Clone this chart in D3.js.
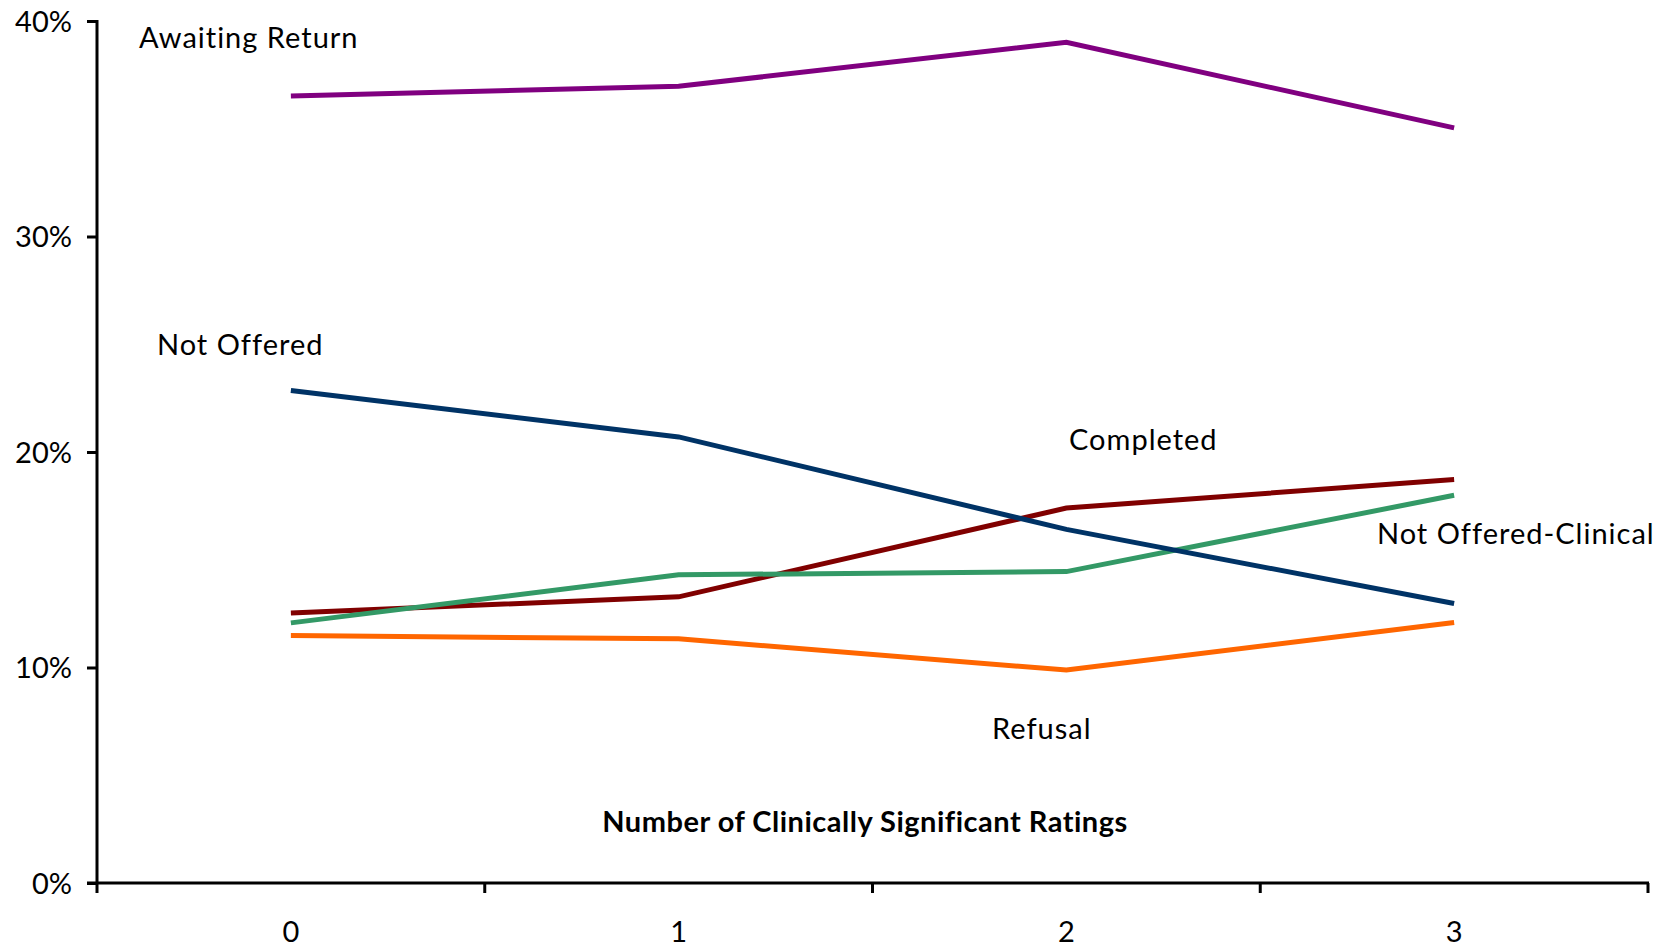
<!DOCTYPE html>
<html>
<head>
<meta charset="utf-8">
<script src="https://cdn.jsdelivr.net/npm/d3@7"></script>
<style>
  html, body { margin: 0; padding: 0; background: #fff; }
  svg { display: block; }
  text { font-family: Lato, "Open Sans", sans-serif; fill: #000; }
</style>
</head>
<body>
<svg id="chart" width="1661" height="949"></svg>
<script>
// Number of clinically significant ratings (x categories)
const categories = ["0", "1", "2", "3"];

// Share of cases in each status, per category
const completed          = [0.1253, 0.1328, 0.1740, 0.1872];
const notOfferedClinical = [0.1207, 0.1430, 0.1445, 0.1799];
const notOffered         = [0.2285, 0.2070, 0.1641, 0.1297];
const refusal            = [0.1148, 0.1133, 0.0988, 0.1209];
const awaitingReturn     = [0.3652, 0.3697, 0.3901, 0.3504];

const yTicks = [0, 0.1, 0.2, 0.3, 0.4];

const series = [
  { name: "Completed",            values: completed,          color: "#800000", label: { x: 1069, y: 450 } },
  { name: "Not Offered-Clinical", values: notOfferedClinical, color: "#339966", label: { x: 1377, y: 544 } },
  { name: "Not Offered",          values: notOffered,         color: "#003366", label: { x: 157,  y: 355 } },
  { name: "Refusal",              values: refusal,            color: "#FF6600", label: { x: 992,  y: 739 } },
  { name: "Awaiting Return",      values: awaitingReturn,     color: "#800080", label: { x: 139,  y: 48 } }
];

const svg = d3.select("#chart");
const plotLeft = 97, plotRight = 1648, plotTop = 21, plotBottom = 883;

const x = d3.scaleBand().domain(categories).range([plotLeft, plotRight]).padding(0);
const y = d3.scaleLinear().domain([0, 0.4]).range([plotBottom, plotTop]);

// Series lines
const line = d3.line()
  .x((d, i) => x(categories[i]) + x.bandwidth() / 2)
  .y(d => y(d));

svg.append("g").selectAll("path")
  .data(series)
  .join("path")
  .attr("d", d => line(d.values))
  .attr("fill", "none")
  .attr("stroke", d => d.color)
  .attr("stroke-width", 5)
  .attr("stroke-linejoin", "miter");

// Y axis
const yAxis = svg.append("g")
  .attr("transform", `translate(${plotLeft},0)`)
  .call(d3.axisLeft(y).tickValues(yTicks).tickFormat(d3.format(".0%")).tickSize(10).tickPadding(15));
yAxis.select(".domain").attr("stroke", "#000").attr("stroke-width", 3).attr("d", `M0,${plotTop - 1}V${plotBottom + 1}`);
yAxis.selectAll(".tick line").attr("stroke", "#000").attr("stroke-width", 3);
yAxis.selectAll(".tick text").attr("font-size", 29).attr("font-family", "Lato, sans-serif").attr("fill", "#000").attr("dy", "0.36em");

// X axis: ticks at category boundaries, labels at centers
const xAxis = svg.append("g").attr("transform", `translate(0,${plotBottom})`);
xAxis.append("line")
  .attr("x1", plotLeft - 10).attr("x2", plotRight + 1)
  .attr("stroke", "#000").attr("stroke-width", 3);
const bounds = categories.map(c => x(c)).concat([plotRight]);
xAxis.selectAll("line.tick")
  .data(bounds)
  .join("line")
  .attr("class", "tick")
  .attr("x1", d => d).attr("x2", d => d)
  .attr("y1", 0).attr("y2", 10)
  .attr("stroke", "#000").attr("stroke-width", 3);
xAxis.selectAll("text.cat")
  .data(categories)
  .join("text")
  .attr("class", "cat")
  .attr("x", d => x(d) + x.bandwidth() / 2)
  .attr("y", 59)
  .attr("text-anchor", "middle")
  .attr("font-size", 29)
  .text(d => d);

// Axis title
svg.append("text")
  .attr("x", 865)
  .attr("y", 832)
  .attr("text-anchor", "middle")
  .attr("font-size", 29)
  .attr("font-weight", "bold")
  .attr("letter-spacing", 0.5)
  .text("Number of Clinically Significant Ratings");

// Series labels
svg.append("g").selectAll("text")
  .data(series)
  .join("text")
  .attr("x", d => d.label.x)
  .attr("y", d => d.label.y)
  .attr("font-size", 29)
  .attr("letter-spacing", 1)
  .text(d => d.name);
</script>
</body>
</html>
